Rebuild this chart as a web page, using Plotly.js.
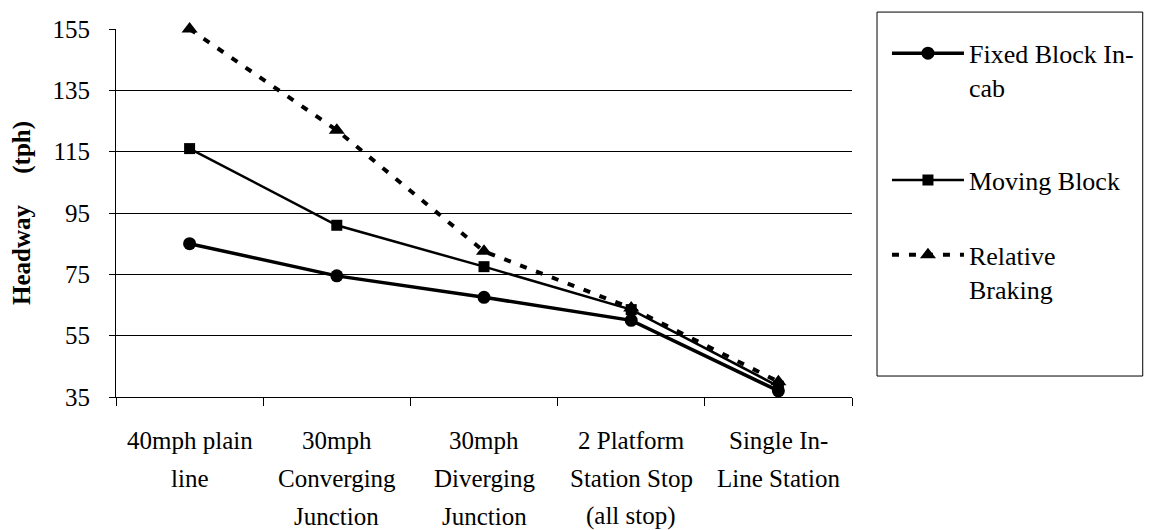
<!DOCTYPE html>
<html>
<head>
<meta charset="utf-8">
<script src="https://cdn.plot.ly/plotly-3.0.1.min.js"></script>
<style>html,body{margin:0;padding:0;background:#fff;}#chart{width:1153px;height:530px;}</style>
</head>
<body>
<div id="chart"></div>
<script>
// ---- data ----
const categories = [
  "40mph plain<br>line",
  "30mph<br>Converging<br>Junction",
  "30mph<br>Diverging<br>Junction",
  "2 Platform<br>Station Stop<br>(all stop)",
  "Single In-<br>Line Station"
];
const fixedBlock = [85, 74.5, 67.5, 60, 37];
const movingBlock = [116, 91, 77.5, 63.5, 38.5];
const relativeBraking = [155, 122, 82.5, 64, 40];
const seriesNames = ["Fixed Block In-<br>cab", "Moving Block", "Relative<br>Braking"];
const yTicks = [35, 55, 75, 95, 115, 135, 155];
const yTitle = "Headway&nbsp;&nbsp;&nbsp;&nbsp;&nbsp;(tph)";

const serif = "'Liberation Serif', 'Times New Roman', serif";
const xIdx = categories.map((c, i) => i);

const traces = [
  {x: xIdx, y: fixedBlock, name: seriesNames[0], mode: "lines+markers", legend: "legend", cliponaxis: false,
   line: {color: "#000", width: 3.5}, marker: {symbol: "circle", size: 13, color: "#000"}},
  {x: xIdx, y: movingBlock, name: seriesNames[1], mode: "lines+markers", legend: "legend2", cliponaxis: false,
   line: {color: "#000", width: 2.5}, marker: {symbol: "square", size: 11, color: "#000"}},
  {x: xIdx, y: relativeBraking, name: seriesNames[2], mode: "lines+markers", legend: "legend3", cliponaxis: false,
   line: {color: "#000", width: 4, dash: "7px,10px"}, marker: {symbol: "triangle-up", size: 14, color: "#000"}}
];

// category labels, one annotation per line
const lineOffsets = [43, 81, 119];
const annotations = [];
categories.forEach((c, i) => {
  c.split("<br>").forEach((t, j) => {
    annotations.push({x: i, y: 0, xref: "x", yref: "paper", text: t, showarrow: false,
      yanchor: "middle", xanchor: "center", yshift: -lineOffsets[j],
      font: {family: serif, size: 25, color: "#000"}});
  });
});

const legendFont = {family: serif, size: 26, color: "#000"};
const legendBase = {x: 1.0475, xanchor: "left", yanchor: "top", font: legendFont, borderwidth: 0,
  itemwidth: 72, valign: "top", bgcolor: "rgba(0,0,0,0)"};

const layout = {
  width: 1153, height: 530,
  margin: {l: 116, r: 301, t: 29, b: 133},
  paper_bgcolor: "#fff", plot_bgcolor: "#fff",
  showlegend: true,
  legend: Object.assign({}, legendBase, {y: 0.998}),
  legend2: Object.assign({}, legendBase, {y: 0.653}),
  legend3: Object.assign({}, legendBase, {y: 0.45}),
  xaxis: {range: [-0.5, 4.5], tickmode: "array", tickvals: [-0.5, 0.5, 1.5, 2.5, 3.5, 4.5],
    showticklabels: false, ticks: "outside", ticklen: 8, tickcolor: "#000",
    showline: true, linecolor: "#000", linewidth: 1, showgrid: false, zeroline: false, fixedrange: true},
  yaxis: {range: [35, 155], tickmode: "array", tickvals: yTicks, ticktext: yTicks.map(String),
    ticks: "outside", ticklen: 6, tickcolor: "#000", ticklabelstandoff: 14,
    tickfont: {family: serif, size: 25, color: "#000"},
    showline: true, linecolor: "#000", linewidth: 1,
    showgrid: true, gridcolor: "#000", gridwidth: 1, zeroline: false,
    title: {text: yTitle, font: {family: serif, size: 25, color: "#000", weight: "bold"}, standoff: 14}},
  annotations: annotations,
  shapes: [{type: "rect", xref: "paper", yref: "paper", x0: 1.034, x1: 1.395, y0: 1.046, y1: 0.057,
    line: {color: "#000", width: 1}, fillcolor: "rgba(0,0,0,0)"}]
};

Plotly.newPlot("chart", traces, layout, {displayModeBar: false, staticPlot: true});
</script>
</body>
</html>
